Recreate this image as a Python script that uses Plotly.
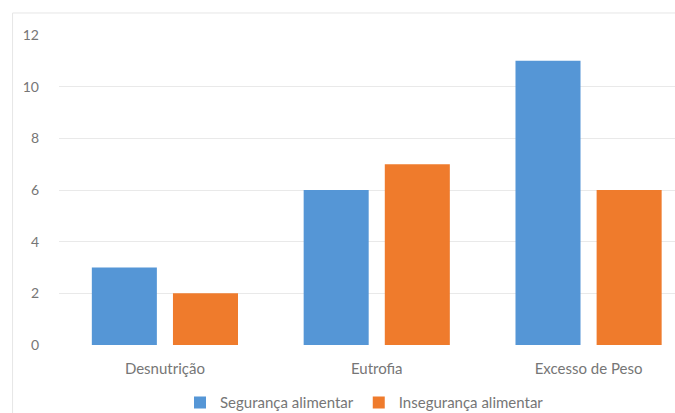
import plotly.graph_objects as go

categories = ["Desnutrição", "Eutrofia", "Excesso de Peso"]
seguranca = [3, 6, 11]
inseguranca = [2, 7, 6]
y_ticks = [0, 2, 4, 6, 8, 10, 12]

fig = go.Figure()
fig.add_trace(go.Bar(
    x=categories, y=seguranca, name="Segurança alimentar",
    marker=dict(color="#5596d6", line=dict(width=0)),
    width=0.307, offset=-0.345,
))
fig.add_trace(go.Bar(
    x=categories, y=inseguranca, name="Insegurança alimentar",
    marker=dict(color="#ef7b2c", line=dict(width=0)),
    width=0.307, offset=0.038,
))

font_family = "Lato, Open Sans, sans-serif"
txt = "#767676"
fig.update_layout(
    width=675, height=413,
    margin=dict(l=58.5, r=0, t=35, b=68),
    paper_bgcolor="white", plot_bgcolor="white",
    font=dict(family=font_family, size=15, color=txt),
    barmode="group",
    showlegend=True,
    legend=dict(orientation="h", xref="container", yref="container",
                x=0.54, xanchor="center", y=0.025, yanchor="middle",
                font=dict(size=15, color=txt), itemwidth=30, traceorder="normal"),
    xaxis=dict(range=[-0.5, 2.408], showgrid=False, zeroline=False, showline=False,
               ticks="", tickfont=dict(size=15, color=txt), ticklabelstandoff=13),
    yaxis=dict(range=[0, 12], tickvals=y_ticks, showgrid=True, gridcolor="#e9e9e9",
               gridwidth=1, zeroline=False, showline=False, ticks="",
               tickfont=dict(size=14, color=txt), ticklabelstandoff=19),
    shapes=[dict(type="rect", xref="paper", yref="paper",
                 x0=-0.0754, x1=1.05, y0=-0.3, y1=1.071,
                 line=dict(color="#e6e6e6", width=1), fillcolor="rgba(0,0,0,0)", layer="below")],
)
fig.write_html("out.html")
